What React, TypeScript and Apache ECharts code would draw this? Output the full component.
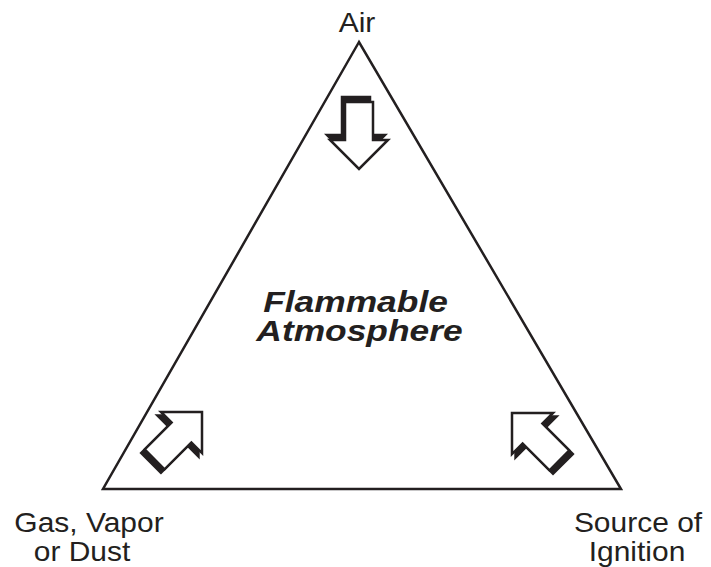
import React, { useEffect, useRef } from "react";
import * as echarts from "echarts";

// Fire-triangle diagram content
const triangleVertices: [number, number][] = [
  [359, 42],
  [103, 489],
  [621, 489],
];

const cornerLabels = [
  { lines: ["Air"], cx: [357], base: [32] },
  { lines: ["Gas, Vapor", "or Dust"], cx: [89, 82], base: [532, 561] },
  { lines: ["Source of", "Ignition"], cx: [638, 637], base: [532, 561] },
];

const centerLines = ["Flammable", "Atmosphere"];
const centerCx = [355.5, 359.5];
const centerBase = [312, 341];

// arrows: tip position and direction
const arrowTips: [number, number][] = [
  [359, 169],
  [202, 412],
  [512, 413],
];
const arrowDirs: [number, number][] = [
  [0, 1],
  [Math.SQRT1_2, -Math.SQRT1_2],
  [-Math.SQRT1_2, -Math.SQRT1_2],
];
const shadowPerp = [3, 0, 0];

// local arrow shape, tip at origin pointing +v
const arrowShape: [number, number][] = [
  [-14, -67],
  [14, -67],
  [14, -29],
  [29, -29],
  [0, 0],
  [-29, -29],
  [-14, -29],
];

function placeArrow(tip: [number, number], dir: [number, number], shiftBack: number, shiftPerp: number) {
  const perp: [number, number] = [dir[1], -dir[0]];
  return arrowShape.map(([u, v]) => {
    const vv = v - shiftBack;
    const uu = u - shiftPerp;
    return [tip[0] + vv * dir[0] + uu * perp[0], tip[1] + vv * dir[1] + uu * perp[1]];
  });
}

export default function App() {
  const ref = useRef<HTMLDivElement>(null);
  useEffect(() => {
    document.body.style.margin = "0";
    if (!ref.current) return;
    const chart = echarts.init(ref.current, null, { renderer: "svg" });
    const font = "Liberation Sans, Arial, sans-serif";
    const elements: any[] = [];

    elements.push({
      type: "polygon",
      shape: { points: triangleVertices },
      style: { fill: "#ffffff", stroke: "#231f20", lineWidth: 2.5, lineJoin: "miter" },
    });

    arrowTips.forEach((tip, i) => {
      const dir = arrowDirs[i];
      elements.push({
        type: "polygon",
        shape: { points: placeArrow(tip, dir, 5, shadowPerp[i]) },
        style: { fill: "#231f20", stroke: "#231f20", lineWidth: 2.5, lineJoin: "miter" },
      });
      elements.push({
        type: "polygon",
        shape: { points: placeArrow(tip, dir, 0, 0) },
        style: { fill: "#ffffff", stroke: "#231f20", lineWidth: 2.5, lineJoin: "miter" },
      });
    });

    cornerLabels.forEach((lab) => {
      lab.lines.forEach((t, j) => {
        const size = 27.5;
        elements.push({
          type: "text",
          x: lab.cx[j],
          y: lab.base[j] - 0.35 * size,
          scaleX: 1.09,
          style: {
            text: t,
            fontSize: size,
            fontFamily: font,
            fill: "#231f20",
            align: "center",
            verticalAlign: "middle",
          },
        });
      });
    });

    centerLines.forEach((t, j) => {
      const size = 29;
      elements.push({
        type: "text",
        x: centerCx[j],
        y: centerBase[j] - 0.35 * size,
        scaleX: 1.22,
        style: {
          text: t,
          fontSize: size,
          fontFamily: font,
          fontWeight: "bold",
          fontStyle: "italic",
          fill: "#231f20",
          align: "center",
          verticalAlign: "middle",
        },
      });
    });

    chart.setOption({
      animation: false,
      backgroundColor: "#ffffff",
      graphic: { elements },
    });
    return () => chart.dispose();
  }, []);
  return <div ref={ref} style={{ width: 711, height: 567 }} />;
}
